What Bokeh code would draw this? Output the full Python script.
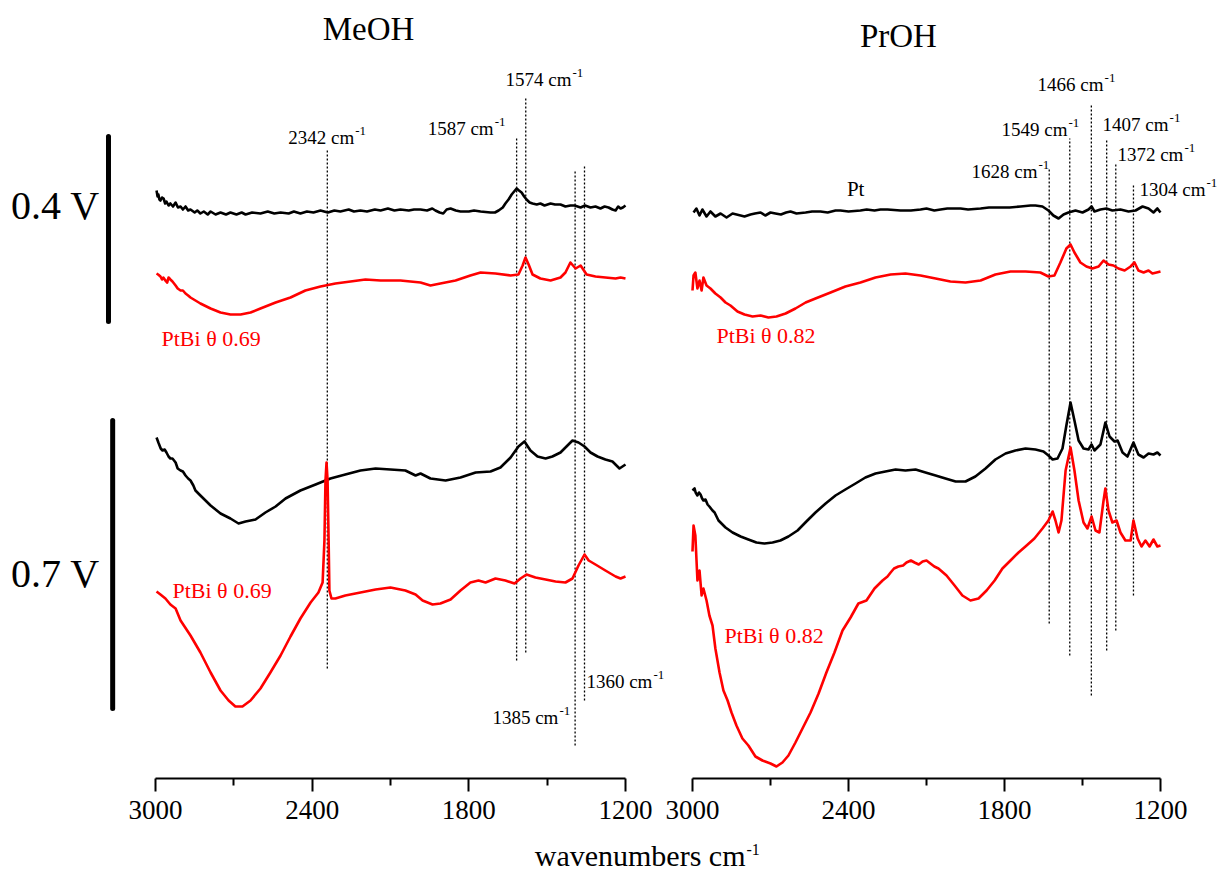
from bokeh.plotting import figure
from bokeh.models import Range1d, LinearAxis, FixedTicker, Label, NumeralTickFormatter
from bokeh.layouts import row, column
from bokeh.embed import file_html
from bokeh.resources import INLINE

FONT = "Liberation Serif"
RED = "#ff0000"

# ---------------- axis ticks ----------------
major_ticks = [3000, 2400, 1800, 1200]
minor_ticks = [2700, 2100, 1500]

# ---------------- spectra (wavenumber cm-1, stacked signal a.u.) ----------------
# MeOH, Pt, 0.4 V
meoh_pt_04 = [(2996,5.88),(2992,5.82),(2989,5.84),(2985,5.79),(2981,5.78),(2975,5.81),(2969,5.80),
              (2963,5.75),(2958,5.77),(2950,5.73),(2943,5.75),(2933,5.72),(2923,5.76),(2914,5.71),
              (2904,5.72),(2895,5.69),(2885,5.72),(2875,5.68),(2866,5.69),(2850,5.66),(2840,5.68),
              (2828,5.65),(2815,5.67),(2800,5.64),(2789,5.67),(2770,5.64),(2751,5.66),(2730,5.64),
              (2713,5.66),(2690,5.64),(2670,5.66),(2655,5.64),(2630,5.66),(2598,5.65),(2570,5.67),
              (2545,5.65),(2521,5.66),(2490,5.65),(2470,5.67),(2445,5.65),(2420,5.67),(2395,5.66),
              (2368,5.68),(2340,5.66),(2315,5.68),(2292,5.67),(2260,5.69),(2240,5.67),(2215,5.68),
              (2190,5.67),(2160,5.69),(2138,5.68),(2110,5.70),(2085,5.68),(2062,5.69),(2030,5.68),
              (2010,5.69),(1985,5.69),(1960,5.68),(1940,5.70),(1928,5.68),(1912,5.66),(1898,5.65),
              (1885,5.69),(1870,5.70),(1850,5.68),(1832,5.67),(1800,5.67),(1780,5.68),(1755,5.67),
              (1717,5.66),(1700,5.66),(1686,5.68),(1670,5.71),(1660,5.75),(1648,5.79),(1636,5.84),
              (1617,5.90),(1608,5.88),(1598,5.86),(1588,5.82),(1579,5.79),(1567,5.76),(1556,5.75),
              (1540,5.74),(1526,5.75),(1510,5.73),(1487,5.75),(1470,5.74),(1449,5.74),(1430,5.72),
              (1411,5.73),(1395,5.73),(1372,5.71),(1355,5.73),(1334,5.71),(1315,5.72),(1296,5.70),
              (1280,5.72),(1265,5.71),(1250,5.69),(1238,5.68),(1228,5.72),(1219,5.70),(1210,5.71),
              (1200,5.73)]
# MeOH, PtBi theta 0.69, 0.4 V
meoh_ptbi_04 = [(2996,5.05),(2990,5.04),(2981,5.02),(2975,4.99),(2970,5.01),(2962,4.98),(2955,4.96),
                (2950,5.01),(2943,4.99),(2935,4.97),(2923,4.93),(2915,4.90),(2904,4.88),(2895,4.88),
                (2885,4.85),(2875,4.83),(2866,4.81),(2828,4.75),(2789,4.70),(2751,4.66),(2713,4.64),
                (2674,4.64),(2636,4.66),(2598,4.70),(2540,4.76),(2483,4.81),(2426,4.88),(2368,4.92),
                (2311,4.95),(2253,4.97),(2196,4.99),(2138,4.98),(2062,4.98),(1985,4.96),(1947,4.93),
                (1909,4.95),(1851,4.98),(1794,5.03),(1755,5.06),(1698,5.05),(1640,5.03),(1610,5.04),
                (1594,5.13),(1583,5.21),(1571,5.14),(1556,5.04),(1526,5.00),(1487,4.98),(1449,5.01),
                (1430,5.06),(1411,5.16),(1391,5.10),(1372,5.13),(1349,5.04),(1315,5.02),(1277,5.01),
                (1238,5.00),(1219,5.01),(1200,5.00)]
# MeOH, Pt, 0.7 V
meoh_pt_07 = [(2996,3.41),(2989,3.36),(2980,3.30),(2973,3.28),(2965,3.29),(2958,3.26),(2950,3.22),
              (2943,3.20),(2935,3.20),(2923,3.16),(2915,3.10),(2904,3.08),(2895,3.07),(2885,3.03),
              (2875,3.00),(2866,2.98),(2855,2.93),(2847,2.88),(2828,2.83),(2789,2.73),(2751,2.65),
              (2713,2.60),(2682,2.55),(2655,2.57),(2617,2.59),(2579,2.66),(2540,2.72),(2502,2.80),
              (2445,2.88),(2387,2.94),(2330,3.00),(2273,3.04),(2215,3.08),(2157,3.10),(2100,3.09),
              (2043,3.08),(2004,3.03),(1985,3.05),(1947,3.00),(1889,2.98),(1832,3.01),(1774,3.06),
              (1717,3.07),(1679,3.11),(1640,3.21),(1610,3.32),(1587,3.37),(1564,3.28),(1537,3.22),
              (1506,3.20),(1480,3.22),(1449,3.26),(1426,3.32),(1403,3.38),(1380,3.36),(1357,3.32),
              (1334,3.26),(1307,3.22),(1277,3.19),(1250,3.17),(1223,3.10),(1200,3.14)]
# MeOH, PtBi theta 0.69, 0.7 V
meoh_ptbi_07 = [(2996,1.87),(2981,1.84),(2962,1.80),(2943,1.74),(2923,1.70),(2904,1.58),(2866,1.43),
                (2828,1.26),(2789,1.06),(2751,0.88),(2720,0.78),(2694,0.72),(2667,0.72),(2636,0.78),
                (2598,0.90),(2560,1.06),(2521,1.23),(2483,1.42),(2445,1.60),(2406,1.76),(2376,1.86),
                (2360,1.96),(2353,2.38),(2349,2.98),(2345,3.16),(2341,2.98),(2337,2.38),(2334,1.88),
                (2326,1.80),(2311,1.80),(2273,1.83),(2215,1.86),(2157,1.89),(2100,1.91),(2043,1.88),
                (2004,1.84),(1977,1.78),(1939,1.74),(1909,1.75),(1870,1.79),(1832,1.88),(1794,1.96),
                (1763,1.98),(1736,1.96),(1698,2.00),(1660,1.98),(1625,1.95),(1602,2.00),(1579,2.04),
                (1545,2.01),(1506,1.99),(1468,1.97),(1430,1.96),(1403,2.00),(1380,2.13),(1357,2.24),
                (1341,2.18),(1315,2.14),(1277,2.08),(1238,2.02),(1219,2.00),(1200,2.02)]
# PrOH, Pt, 0.4 V
proh_pt_04 = [(2996,5.66),(2985,5.70),(2973,5.63),(2962,5.69),(2946,5.62),(2931,5.67),(2912,5.62),
              (2892,5.65),(2869,5.61),(2846,5.65),(2815,5.63),(2800,5.62),(2777,5.64),(2760,5.65),
              (2738,5.66),(2720,5.63),(2700,5.66),(2681,5.65),(2660,5.64),(2640,5.66),(2623,5.67),
              (2600,5.65),(2565,5.66),(2540,5.67),(2508,5.67),(2480,5.66),(2450,5.68),(2431,5.68),
              (2400,5.67),(2354,5.68),(2330,5.69),(2300,5.68),(2277,5.69),(2250,5.69),(2200,5.68),
              (2160,5.68),(2123,5.69),(2100,5.70),(2070,5.68),(2046,5.69),(2020,5.70),(1969,5.70),
              (1940,5.69),(1892,5.70),(1860,5.71),(1815,5.71),(1780,5.71),(1738,5.72),(1700,5.73),
              (1681,5.73),(1654,5.72),(1631,5.68),(1612,5.63),(1592,5.60),(1573,5.64),(1554,5.66),
              (1527,5.68),(1500,5.66),(1477,5.69),(1465,5.72),(1454,5.67),(1431,5.69),(1408,5.70),
              (1385,5.68),(1354,5.69),(1323,5.67),(1296,5.68),(1269,5.72),(1246,5.70),(1227,5.66),
              (1212,5.70),(1200,5.66)]
# PrOH, PtBi theta 0.82, 0.4 V
proh_ptbi_04 = [(3000,4.88),(2996,5.03),(2989,5.06),(2981,4.90),(2973,4.98),(2965,4.88),(2958,5.01),
                (2946,4.93),(2931,4.90),(2912,4.85),(2892,4.81),(2873,4.76),(2854,4.73),(2827,4.67),
                (2800,4.64),(2769,4.62),(2738,4.63),(2708,4.61),(2677,4.62),(2642,4.65),(2604,4.70),
                (2565,4.76),(2527,4.80),(2469,4.86),(2412,4.92),(2354,4.96),(2296,5.01),(2238,5.04),
                (2181,5.05),(2123,5.03),(2065,5.00),(2008,4.97),(1950,4.96),(1892,4.98),(1835,5.04),
                (1777,5.07),(1719,5.07),(1662,5.06),(1631,5.02),(1608,5.03),(1585,5.16),(1562,5.30),
                (1546,5.34),(1531,5.26),(1508,5.16),(1485,5.12),(1462,5.10),(1438,5.12),(1419,5.18),
                (1400,5.14),(1381,5.13),(1362,5.10),(1338,5.08),(1315,5.12),(1300,5.16),(1285,5.08),
                (1265,5.06),(1246,5.08),(1231,5.05),(1215,5.06),(1200,5.07)]
# PrOH, Pt, 0.7 V
proh_pt_07 = [(3000,2.88),(2992,2.90),(2988,2.86),(2981,2.83),(2975,2.86),(2969,2.84),(2963,2.80),
              (2958,2.78),(2950,2.79),(2942,2.74),(2935,2.72),(2923,2.68),(2915,2.66),(2900,2.58),
              (2873,2.51),(2846,2.46),(2815,2.42),(2785,2.39),(2754,2.36),(2723,2.35),(2692,2.36),
              (2662,2.38),(2631,2.42),(2596,2.48),(2562,2.57),(2527,2.66),(2488,2.75),(2450,2.83),
              (2412,2.89),(2373,2.95),(2335,3.01),(2296,3.05),(2258,3.07),(2219,3.09),(2181,3.08),
              (2142,3.09),(2104,3.06),(2065,3.03),(2027,3.00),(1988,2.97),(1950,2.97),(1912,3.02),
              (1873,3.10),(1835,3.19),(1796,3.25),(1758,3.28),(1719,3.30),(1681,3.29),(1650,3.27),
              (1631,3.23),(1615,3.19),(1596,3.20),(1577,3.30),(1562,3.53),(1546,3.76),(1531,3.58),
              (1515,3.38),(1496,3.30),(1477,3.29),(1465,3.34),(1454,3.28),(1431,3.34),(1412,3.56),
              (1396,3.42),(1377,3.37),(1365,3.38),(1346,3.26),(1327,3.22),(1304,3.36),(1285,3.24),
              (1265,3.21),(1246,3.25),(1227,3.24),(1212,3.26),(1200,3.23)]
# PrOH, PtBi theta 0.82, 0.7 V
proh_ptbi_07 = [(3000,2.27),(2996,2.53),(2989,2.43),(2981,1.98),(2973,2.08),(2965,1.83),(2958,1.90),
                (2946,1.78),(2935,1.63),(2923,1.53),(2912,1.30),(2896,1.06),(2881,0.88),(2865,0.78),
                (2850,0.66),(2831,0.53),(2808,0.40),(2785,0.33),(2758,0.22),(2731,0.18),(2700,0.15),
                (2677,0.12),(2654,0.16),(2631,0.23),(2604,0.36),(2577,0.50),(2546,0.66),(2515,0.85),
                (2485,1.06),(2454,1.26),(2423,1.48),(2392,1.61),(2362,1.75),(2331,1.78),(2300,1.90),
                (2269,1.98),(2250,2.02),(2238,2.06),(2225,2.10),(2208,2.12),(2190,2.13),(2177,2.16),
                (2160,2.18),(2146,2.16),(2130,2.14),(2115,2.17),(2100,2.18),(2085,2.15),(2070,2.12),
                (2054,2.10),(2023,2.03),(1992,1.93),(1962,1.83),(1931,1.78),(1900,1.80),(1869,1.88),
                (1838,1.98),(1808,2.10),(1777,2.18),(1746,2.26),(1715,2.33),(1685,2.40),(1654,2.50),
                (1631,2.58),(1615,2.67),(1604,2.58),(1592,2.46),(1581,2.58),(1565,3.08),(1546,3.31),
                (1531,3.08),(1515,2.78),(1496,2.56),(1481,2.50),(1465,2.62),(1450,2.48),(1435,2.46),
                (1419,2.78),(1412,2.90),(1400,2.68),(1385,2.56),(1369,2.58),(1354,2.46),(1335,2.38),
                (1315,2.38),(1304,2.58),(1288,2.40),(1273,2.32),(1258,2.38),(1242,2.32),(1227,2.39),
                (1212,2.32),(1200,2.33)]

# ---------------- band markers (dotted lines) ----------------
meoh_mark_wn = [2342, 1617, 1582, 1393, 1357]
meoh_mark_top = [6.28, 6.42, 6.81, 6.08, 6.12]
meoh_mark_bottom = [1.10, 1.18, 1.26, 0.33, 0.78]
meoh_label_text = ["2342", "1587", "1574", "1385", "1360"]
meoh_label_wn = [2239, 1705, 1407, 1457, 1097]
meoh_label_y = [6.415, 6.505, 6.995, 0.615, 0.975]

proh_mark_wn = [1628, 1549, 1466, 1407, 1372, 1304]
proh_mark_top = [6.10, 6.40, 6.75, 6.38, 6.15, 5.93]
proh_mark_bottom = [1.55, 1.23, 0.83, 1.28, 1.48, 1.83]
proh_label_text = ["1628", "1549", "1466", "1407", "1372", "1304"]
proh_label_wn = [1673, 1558, 1419, 1169, 1112, 1027]
proh_label_y = [6.075, 6.495, 6.945, 6.545, 6.245, 5.895]

# scale bars for the two potentials
bar_wn = [3180, 3164]
bar_top = [6.42, 3.58]
bar_bottom = [4.57, 0.70]
potential_text = ["0.4 V", "0.7 V"]
potential_y = [5.73, 2.05]


def xy(pairs):
    pairs = sorted(pairs, key=lambda p: -p[0])
    return [p[0] for p in pairs], [p[1] for p in pairs]


def make_fig(width, x_start, x_end):
    p = figure(width=width, height=836, x_range=Range1d(x_start, x_end), y_range=Range1d(0, 7.78),
               output_backend="svg", toolbar_location=None, x_axis_location=None,
               y_axis_location=None, min_border=0, min_border_bottom=58,
               outline_line_color=None, background_fill_color="white", border_fill_color="white")
    p.grid.grid_line_color = None
    ax = LinearAxis(bounds=(1200, 3000), ticker=FixedTicker(ticks=major_ticks, minor_ticks=minor_ticks),
                    formatter=NumeralTickFormatter(format="0"))
    ax.axis_line_width = 2
    ax.axis_line_color = "black"
    ax.major_tick_line_width = 2
    ax.minor_tick_line_width = 2
    ax.major_tick_in = 0
    ax.major_tick_out = 13
    ax.minor_tick_in = 0
    ax.minor_tick_out = 7
    ax.major_label_standoff = 9
    ax.major_label_text_font = FONT
    ax.major_label_text_font_size = "27px"
    ax.major_label_text_color = "black"
    p.add_layout(ax, "below")
    return p


def add_cm_label(p, wn, y, num):
    p.add_layout(Label(x=wn, y=y, text=num + " cm", text_align="right", text_baseline="middle",
                       text_font=FONT, text_font_size="19px", text_color="black"))
    p.add_layout(Label(x=wn, y=y + 0.06, x_offset=1, text="-1", text_align="left",
                       text_baseline="middle", text_font=FONT, text_font_size="13px",
                       text_color="black"))


def text(p, x, y, s, size, color="black", align="left"):
    p.add_layout(Label(x=x, y=y, text=s, text_align=align, text_baseline="middle",
                       text_font=FONT, text_font_size=size, text_color=color))


# ---------------- left panel: MeOH ----------------
left = make_fig(664, 3593.6, 1050.64)
left.segment(x0=meoh_mark_wn, y0=meoh_mark_bottom, x1=meoh_mark_wn, y1=meoh_mark_top,
             line_color="black", line_width=1.3, line_dash="2 2")
for data, col in [(meoh_pt_04, "black"), (meoh_ptbi_04, RED), (meoh_pt_07, "black"), (meoh_ptbi_07, RED)]:
    xs, ys = xy(data)
    left.line(xs, ys, line_color=col, line_width=2.6, line_join="round")
left.segment(x0=bar_wn, y0=bar_bottom, x1=bar_wn, y1=bar_top, line_color="black", line_width=5,
             line_cap="round")
for t, wn, y in zip(meoh_label_text, meoh_label_wn, meoh_label_y):
    add_cm_label(left, wn, y, t)
text(left, 2977, 4.405, "PtBi \u03b8 0.69", "22px", RED)
text(left, 2935, 1.885, "PtBi \u03b8 0.69", "22px", RED)
text(left, 2184, 7.495, "MeOH", "33px", align="center")
for s, y in zip(potential_text, potential_y):
    text(left, 3383, y, s, "40px", align="center")

# ---------------- right panel: PrOH ----------------
right = make_fig(553, 3107.69, 980.77)
right.segment(x0=proh_mark_wn, y0=proh_mark_bottom, x1=proh_mark_wn, y1=proh_mark_top,
              line_color="black", line_width=1.3, line_dash="2 2")
for data, col in [(proh_pt_04, "black"), (proh_ptbi_04, RED), (proh_pt_07, "black"), (proh_ptbi_07, RED)]:
    xs, ys = xy(data)
    right.line(xs, ys, line_color=col, line_width=2.6, line_join="round")
for t, wn, y in zip(proh_label_text, proh_label_wn, proh_label_y):
    add_cm_label(right, wn, y, t)
text(right, 2908, 4.43, "PtBi \u03b8 0.82", "22px", RED)
text(right, 2877, 1.43, "PtBi \u03b8 0.82", "22px", RED)
text(right, 2406, 5.90, "Pt", "21px")
text(right, 2208, 7.425, "PrOH", "33px", align="center")

# ---------------- common x-axis title ----------------
bottom = figure(width=1217, height=39, x_range=Range1d(0, 1217), y_range=Range1d(0, 39),
                output_backend="svg", toolbar_location=None, x_axis_location=None,
                y_axis_location=None, min_border=0, outline_line_color=None)
bottom.grid.grid_line_color = None
bottom.add_layout(Label(x=745, y=20, text="wavenumbers cm", text_align="right", text_baseline="middle",
                        text_font=FONT, text_font_size="30px", text_color="black"))
bottom.add_layout(Label(x=745, y=26, x_offset=1, text="-1", text_align="left", text_baseline="middle",
                        text_font=FONT, text_font_size="16px", text_color="black"))

layout = column(row(left, right), bottom)
open("out.html", "w").write(file_html(layout, INLINE))
